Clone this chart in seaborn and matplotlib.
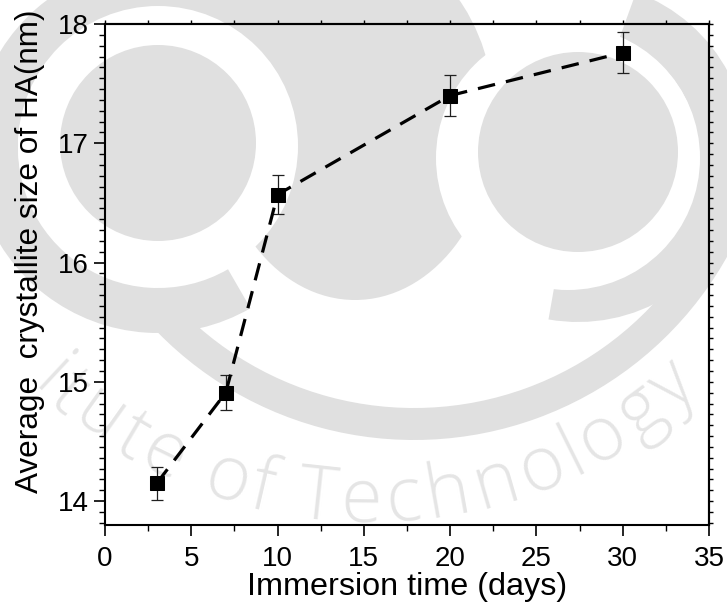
import numpy as np
import pandas as pd
import matplotlib
matplotlib.use("Agg")
import matplotlib.pyplot as plt
import seaborn as sns
from matplotlib.patches import Circle, Ellipse, Wedge
from matplotlib.ticker import MultipleLocator, FixedLocator
from matplotlib.font_manager import FontProperties
from matplotlib.textpath import TextToPath

# Crystallite size of HA versus immersion time
days = [3, 7, 10, 20, 30]
size_nm = [14.15, 14.91, 16.57, 17.40, 17.76]
size_err = [0.14, 0.145, 0.165, 0.17, 0.17]

x_ticks = [0, 5, 10, 15, 20, 25, 30, 35]
y_ticks = [14, 15, 16, 17, 18]
x_label = "Immersion time (days)"
y_label = "Average  crystallite size of HA(nm)"
emblem_text = "Institute of Technology"

sns.set_theme(style="ticks")
plt.rcParams["font.family"] = ["Liberation Sans", "DejaVu Sans"]

W, H = 727, 603
fig = plt.figure(figsize=(W / 100, H / 100), dpi=100)
fig.patch.set_facecolor("white")

# ---- faint emblem behind the plot (pixel coordinates, y downwards) ----
bg = fig.add_axes([0, 0, 1, 1])
bg.set_xlim(0, W)
bg.set_ylim(H, 0)
bg.axis("off")
grey = "#e0e0e0"
bg.add_patch(Ellipse((355, 120), 280, 360, color=grey, lw=0))
bg.add_patch(Wedge((158, 148), 185, 60, 330, width=45, color=grey, lw=0))
bg.add_patch(Wedge((414, 81), 359, 0, 140, width=32, color=grey, lw=0))
bg.add_patch(Wedge((578, 152), 170, -70, 100, width=50, color=grey, lw=0))
bg.add_patch(Circle((158, 146), 140, color="white", lw=0))
bg.add_patch(Circle((568, 158), 132, color="white", lw=0))
bg.add_patch(Circle((158, 143), 98, color=grey, lw=0))
bg.add_patch(Circle((578, 152), 100, color=grey, lw=0))

fp = FontProperties(family="Open Sans", weight="light", size=54)
t2p = TextToPath()
widths = []
for ch in emblem_text:
    if ch == " ":
        widths.append(0.25 * 54)
    else:
        widths.append(t2p.get_text_width_height_descent(ch, fp, ismath=False)[0])
widths = np.array(widths)
centers = np.cumsum(widths) - widths / 2
i_o = emblem_text.index("of")
i_y = len(emblem_text) - 1
cx, cy, r_mid, r_base = 367, 40, 465, 482
scale = np.deg2rad(59.0) * r_mid / (centers[i_y] - centers[i_o])
for ch, c in zip(emblem_text, centers):
    if ch == " ":
        continue
    theta = 107.6 - np.rad2deg((c - centers[i_o]) * scale / r_mid)
    th = np.deg2rad(theta)
    px = cx + r_base * np.cos(th)
    if px < 30 or px > W - 20:
        continue
    bg.text(px, cy + r_base * np.sin(th), ch,
            fontproperties=fp, color="#e5e5e5", rotation=90 - theta,
            rotation_mode="anchor", ha="center", va="baseline")

# ---- main plot ----
ax = fig.add_axes([105 / W, 1 - 525 / H, (709 - 105) / W, (525 - 24) / H])
ax.patch.set_alpha(0)

df = pd.DataFrame({"days": days, "size": size_nm, "err": size_err})
ax.errorbar(df["days"], df["size"], yerr=df["err"], fmt="none",
            ecolor="#202020", elinewidth=0.9, capsize=4.5, capthick=0.9,
            zorder=3)
sns.lineplot(data=df, x="days", y="size", ax=ax, color="black",
             linestyle=(0, (5.5, 3.5)), linewidth=2.3, marker="s",
             markersize=9.5, markeredgecolor="black",
             markerfacecolor="black", zorder=4)

ax.set_xlim(0, 35)
ax.set_ylim(13.8, 18)
ax.xaxis.set_major_locator(FixedLocator(x_ticks))
ax.xaxis.set_minor_locator(MultipleLocator(2.5))
ax.yaxis.set_major_locator(FixedLocator(y_ticks))
y_minor = 14 + np.arange(-2, 45) / 11
ax.yaxis.set_minor_locator(FixedLocator(y_minor))

ax.tick_params(axis="both", which="major", direction="out", length=8,
               width=1.2, color="black", labelsize=20, labelcolor="black")
ax.tick_params(axis="both", which="minor", direction="out", length=4.5,
               width=1.0, color="black")
ax.tick_params(axis="x", which="major", pad=7)
ax.tick_params(axis="y", which="major", pad=3.5)

for sp in ax.spines.values():
    sp.set_visible(True)
    sp.set_linewidth(1.5)
    sp.set_color("black")

# short ticks on the top and right frame
top = ax.secondary_xaxis("top")
top.xaxis.set_major_locator(FixedLocator(np.arange(0, 35.1, 2.5)))
top.tick_params(direction="out", length=3, width=1.0, labeltop=False,
                color="black")
top.spines["top"].set_linewidth(1.5)
right = ax.secondary_yaxis("right")
right.yaxis.set_major_locator(FixedLocator(y_minor))
right.tick_params(direction="out", length=3, width=1.0, labelright=False,
                  color="black")
right.spines["right"].set_linewidth(1.5)

ax.set_xlabel(x_label, fontsize=23.3, color="black")
ax.set_ylabel(y_label, fontsize=22.7, color="black")
ax.xaxis.set_label_coords(0.5, -0.094)
ax.yaxis.set_label_coords(-0.099, 0.547)

fig.savefig("out.png", dpi=100, facecolor="white")
